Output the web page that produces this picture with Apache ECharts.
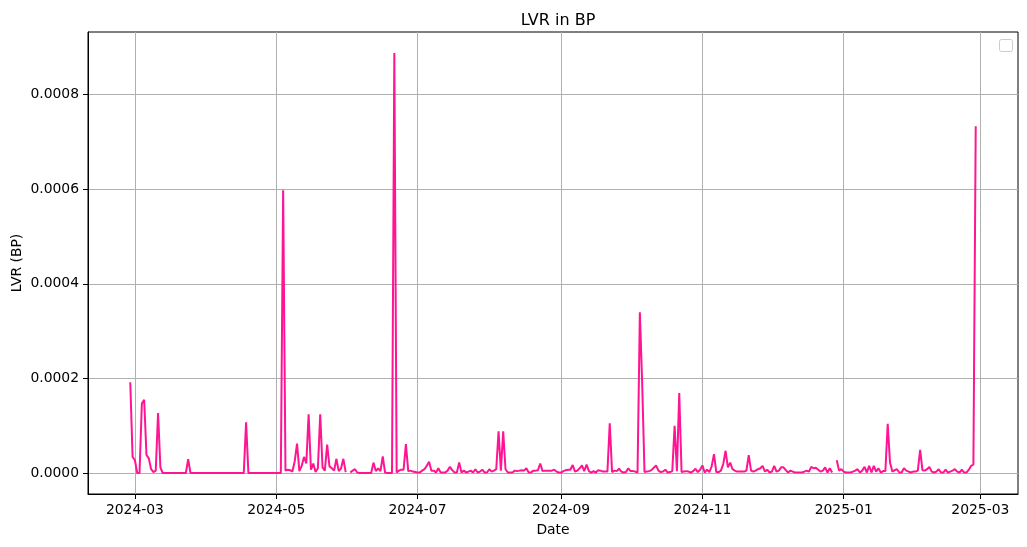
<!DOCTYPE html>
<html><head><meta charset="utf-8">
<script src="https://cdn.jsdelivr.net/npm/echarts@6/dist/echarts.min.js"></script>
<style>html,body{margin:0;padding:0;background:#fff}#c{width:1027px;height:547px}</style>
</head><body><div id="c"></div>
<script>
// daily samples starting at this date
const startDate = '2024-02-28';
// LVR values (one per day)
const lvrValues = [
1.92e-4,0.34e-4,0.27e-4,0,0,1.47e-4,1.55e-4,0.38e-4,0.31e-4,0.08e-4,
0.02e-4,0.05e-4,1.27e-4,0.12e-4,0,0,0,0,0,0,
0,0,0,0,0,0.29e-4,0,0,0,0,
0,0,0,0,0,0,0,0,0,0,
0,0,0,0,0,0,0,0,0,0,
1.07e-4,0,0,0,0,0,0,0,0,0,
0,0,0,0,0,0,5.98e-4,0.05e-4,0.07e-4,0.06e-4,
0.03e-4,0.25e-4,0.62e-4,0.04e-4,0.15e-4,0.34e-4,0.2e-4,1.24e-4,0.07e-4,0.2e-4,
0.02e-4,0.1e-4,1.24e-4,0.12e-4,0.05e-4,0.6e-4,0.14e-4,0.1e-4,0.05e-4,0.3e-4,
0.04e-4,0.1e-4,0.3e-4,0.02e-4,null,0.01e-4,0.05e-4,0.08e-4,0.01e-4,0,
0,0,0,0,0,0.22e-4,0.04e-4,0.1e-4,0.04e-4,0.35e-4,0.01e-4,
0,0,0,8.88e-4,0.01e-4,0.05e-4,0.07e-4,0.07e-4,0.61e-4,0.04e-4,
0.05e-4,0.03e-4,0.02e-4,0.01e-4,0.01e-4,0.05e-4,0.08e-4,0.15e-4,0.24e-4,0.05e-4,
0.05e-4,0.01e-4,0.1e-4,0.01e-4,0.01e-4,0.01e-4,0.05e-4,0.13e-4,0.06e-4,0.01e-4,
0.01e-4,0.22e-4,0.01e-4,0.05e-4,0.01e-4,0.03e-4,0.05e-4,0.01e-4,0.08e-4,0.01e-4,
0.03e-4,0.07e-4,0.01e-4,0.01e-4,0.08e-4,0.03e-4,0.05e-4,0.08e-4,0.88e-4,0.05e-4,
0.88e-4,0.08e-4,0.01e-4,0.01e-4,0.01e-4,0.05e-4,0.04e-4,0.05e-4,0.06e-4,0.05e-4,
0.1e-4,0.01e-4,0.01e-4,0.05e-4,0.05e-4,0.06e-4,0.2e-4,0.04e-4,0.05e-4,0.05e-4,
0.05e-4,0.05e-4,0.07e-4,0.03e-4,0.01e-4,0.01e-4,0.04e-4,0.06e-4,0.07e-4,0.07e-4,
0.17e-4,0.03e-4,0.05e-4,0.1e-4,0.16e-4,0.04e-4,0.18e-4,0.04e-4,0.01e-4,0.04e-4,
0.01e-4,0.06e-4,0.05e-4,0.03e-4,0.03e-4,0.03e-4,1.05e-4,0.02e-4,0.05e-4,0.04e-4,
0.09e-4,0.03e-4,0.01e-4,0.02e-4,0.1e-4,0.04e-4,0.04e-4,0.03e-4,0.01e-4,3.4e-4,
1.9e-4,0.02e-4,0.03e-4,0.04e-4,0.06e-4,0.11e-4,0.16e-4,0.05e-4,0.02e-4,0.03e-4,0.07e-4,
0.01e-4,0.02e-4,0.04e-4,1.0e-4,0.04e-4,1.69e-4,0.02e-4,0.03e-4,0.04e-4,0.03e-4,
0.01e-4,0.04e-4,0.09e-4,0.02e-4,0.07e-4,0.16e-4,0.01e-4,0.07e-4,0.02e-4,0.14e-4,
0.4e-4,0.02e-4,0.02e-4,0.05e-4,0.19e-4,0.47e-4,0.12e-4,0.22e-4,0.08e-4,0.05e-4,
0.03e-4,0.03e-4,0.03e-4,0.03e-4,0.05e-4,0.38e-4,0.05e-4,0.03e-4,0.05e-4,0.08e-4,
0.1e-4,0.15e-4,0.03e-4,0.07e-4,0.01e-4,0.03e-4,0.15e-4,0.03e-4,0.05e-4,0.12e-4,
0.12e-4,0.06e-4,0.01e-4,0.05e-4,0.03e-4,0.01e-4,0.01e-4,0.01e-4,0.01e-4,0.03e-4,
0.05e-4,0.03e-4,0.13e-4,0.1e-4,0.11e-4,0.07e-4,0.03e-4,0.05e-4,0.12e-4,0.01e-4,
0.1e-4,0.01e-4,null,0.27e-4,0.05e-4,0.08e-4,0.03e-4,0.01e-4,0.01e-4,0.01e-4,
0.03e-4,0.05e-4,0.08e-4,0.01e-4,0.05e-4,0.13e-4,0.01e-4,0.15e-4,0.01e-4,0.15e-4,
0.03e-4,0.1e-4,0.01e-4,0.04e-4,0.04e-4,1.04e-4,0.22e-4,0.03e-4,0.06e-4,0.08e-4,
0.01e-4,0.01e-4,0.1e-4,0.05e-4,0.03e-4,0.01e-4,0.03e-4,0.03e-4,0.05e-4,0.49e-4,
0.06e-4,0.05e-4,0.08e-4,0.13e-4,0.03e-4,0.01e-4,0.03e-4,0.08e-4,0.01e-4,0.01e-4,
0.07e-4,0.01e-4,0.03e-4,0.05e-4,0.08e-4,0.03e-4,0.01e-4,0.07e-4,0.01e-4,0.01e-4,
0.07e-4,0.15e-4,0.18e-4,7.33e-4
];
const xTickLabels = ['2024-03','2024-05','2024-07','2024-09','2024-11','2025-01','2025-03'];
const yTickValues = [0, 0.0002, 0.0004, 0.0006, 0.0008];

const DAY = 86400000;
const t0 = Date.parse(startDate + 'T00:00:00Z');
const seriesData = lvrValues.map((v, i) => [t0 + i * DAY, v]);
const tFirst = seriesData[0][0], tLast = seriesData[seriesData.length - 1][0];
const span = tLast - tFirst;
const vals = lvrValues.filter(v => v !== null);
const vMax = Math.max(...vals), vMin = Math.min(...vals);
const vSpan = vMax - vMin;
const xTickValues = xTickLabels.map(s => Date.parse(s + '-01T00:00:00Z'));

const FONT = 'DejaVu Sans';
const chart = echarts.init(document.getElementById('c'), null, {renderer: 'canvas'});
chart.setOption({
  animation: false,
  backgroundColor: '#ffffff',
  title: {
    text: 'LVR in BP', left: 553, top: 8, textAlign: 'center',
    textStyle: {fontFamily: FONT, fontSize: 16, fontWeight: 'normal', color: '#000'}
  },
  grid: {left: 88, right: 9, top: 32, bottom: 53, containLabel: false, outerBoundsMode: 'none',
    show: true, borderColor: '#000', borderWidth: 1, backgroundColor: 'transparent'},
  xAxis: {
    type: 'value',
    min: tFirst - 0.05 * span,
    max: tLast + 0.05 * span,
    name: 'Date', nameLocation: 'middle', nameGap: 29, nameMoveOverlap: false,
    nameTextStyle: {fontFamily: FONT, fontSize: 13.9, color: '#000'},
    axisLine: {show: true, onZero: false, lineStyle: {color: '#000', width: 1}},
    axisTick: {show: true, length: 5, lineStyle: {color: '#000', width: 1}, customValues: xTickValues},
    axisLabel: {
      customValues: xTickValues, margin: 9, fontFamily: FONT, fontSize: 13.9, color: '#000',
      showMinLabel: true, showMaxLabel: true,
      formatter: v => { const k = xTickValues.indexOf(v); return k >= 0 ? xTickLabels[k] : ''; }
    },
    splitLine: {show: true, lineStyle: {color: '#b0b0b0', width: 1}}
  },
  yAxis: {
    type: 'value',
    min: vMin - 0.05 * vSpan,
    max: vMax + 0.05 * vSpan,
    name: 'LVR (BP)', nameLocation: 'middle', nameGap: 64, nameMoveOverlap: false,
    nameTextStyle: {fontFamily: FONT, fontSize: 13.9, color: '#000'},
    axisLine: {show: true, onZero: false, lineStyle: {color: '#000', width: 1}},
    axisTick: {show: true, length: 5, lineStyle: {color: '#000', width: 1}, customValues: yTickValues},
    axisLabel: {
      customValues: yTickValues, margin: 9, fontFamily: FONT, fontSize: 13.9, color: '#000',
      formatter: v => Number(v).toFixed(4)
    },
    splitLine: {show: true, lineStyle: {color: '#b0b0b0', width: 1}}
  },
  graphic: [{
    type: 'rect', left: 999, top: 39, z: 100,
    shape: {width: 13, height: 12, r: 2},
    style: {fill: 'rgba(255,255,255,0.8)', stroke: '#cccccc', lineWidth: 1}
  }],
  series: [{
    type: 'line', data: seriesData, showSymbol: false, connectNulls: false,
    lineStyle: {color: '#ff1493', width: 2}, itemStyle: {color: '#ff1493'},
    emphasis: {disabled: true}
  }]
});
</script></body></html>
